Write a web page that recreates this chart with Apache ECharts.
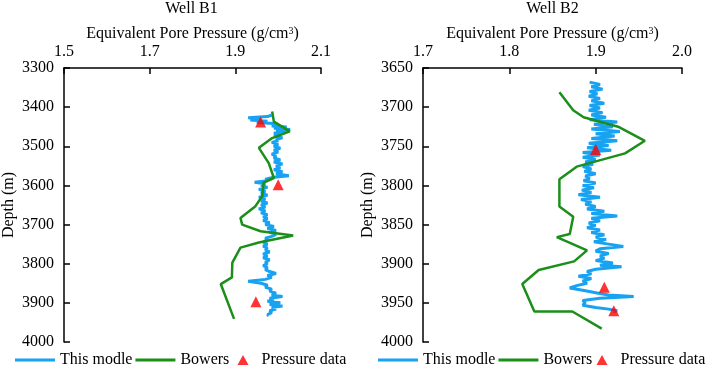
<!DOCTYPE html>
<html>
<head>
<meta charset="utf-8">
<script src="https://cdn.jsdelivr.net/npm/echarts@6/dist/echarts.min.js"></script>
<style>html,body{margin:0;padding:0;background:#fff}#c{width:709px;height:365px}</style>
</head>
<body>
<div id="c"></div>
<script>
// ---- Well B1 ----
const b1XTicks = [1.5, 1.7, 1.9, 2.1];
const b1Model = [
[1.985,3420],[1.975,3424],[1.93,3427],[1.96,3430],[1.935,3433],[1.975,3436],[1.95,3439],[1.99,3442],
[2.0,3445],[1.985,3448],[2.02,3451],[1.99,3454],[2.028,3457],[1.995,3460],[2.02,3463],[1.99,3466],
[2.005,3470],[1.99,3474],[2.01,3478],[1.995,3482],[2.0,3486],[1.985,3490],[2.0,3495],[1.99,3500],
[2.005,3505],[1.99,3510],[2.0,3515],[1.985,3520],[1.995,3525],[1.99,3530],[2.005,3535],[1.99,3540],
[2.01,3545],[1.995,3550],[2.005,3555],[1.99,3560],[2.01,3565],[1.995,3570],[2.025,3575],[1.985,3580],
[1.97,3584],[1.975,3588],[1.945,3592],[1.97,3596],[1.96,3600],[1.975,3605],[1.955,3610],[1.97,3615],
[1.96,3620],[1.975,3625],[1.955,3630],[1.97,3635],[1.96,3640],[1.975,3645],[1.96,3650],[1.97,3655],
[1.955,3660],[1.97,3665],[1.96,3670],[1.975,3675],[1.965,3680],[1.975,3685],[1.965,3690],[1.98,3695],
[1.97,3700],[1.99,3705],[1.975,3710],[1.995,3715],[1.98,3720],[1.995,3725],[1.985,3730],[1.97,3735],
[1.975,3740],[1.965,3745],[1.975,3750],[1.965,3755],[1.975,3760],[1.97,3765],[1.98,3770],[1.965,3775],
[1.975,3780],[1.965,3785],[1.98,3790],[1.97,3795],[1.975,3800],[1.965,3805],[1.975,3810],[1.97,3815],
[1.98,3820],[1.995,3825],[1.975,3830],[1.985,3835],[1.97,3840],[1.93,3845],[1.96,3850],[1.975,3855],
[1.97,3860],[1.985,3865],[1.98,3870],[1.995,3875],[1.985,3880],[2.01,3884],[1.98,3888],[1.99,3892],
[1.975,3896],[2.005,3900],[1.98,3904],[2.01,3908],[1.985,3912],[1.995,3916],[1.98,3920],[1.985,3925],
[1.975,3930],[1.978,3933]
];
const b1Bowers = [
[1.986,3411],[1.990,3437],[2.027,3462],[1.986,3479],[1.955,3504],[1.978,3543],[1.990,3581],[1.966,3593],
[1.963,3627],[1.947,3653],[1.912,3683],[1.916,3700],[1.959,3717],[2.035,3728],[1.955,3746],[1.912,3759],
[1.893,3797],[1.892,3835],[1.866,3852],[1.897,3941]
];
const b1Pressure = [[1.959,3438],[2.0,3598],[1.948,3897]];

// ---- Well B2 ----
const b2XTicks = [1.7, 1.8, 1.9, 2.0];
const b2Model = [
[1.893,3668],[1.905,3671],[1.895,3674],[1.908,3677],[1.893,3680],[1.902,3683],[1.892,3686],[1.905,3689],
[1.895,3692],[1.91,3695],[1.893,3698],[1.905,3701],[1.892,3704],[1.908,3707],[1.895,3710],[1.912,3713],
[1.893,3716],[1.925,3719],[1.898,3722],[1.92,3725],[1.895,3728],[1.928,3731],[1.9,3734],[1.922,3737],
[1.895,3740],[1.925,3743],[1.892,3746],[1.915,3749],[1.89,3752],[1.918,3755],[1.885,3758],[1.905,3761],
[1.885,3764],[1.9,3767],[1.888,3770],[1.897,3773],[1.885,3776],[1.895,3779],[1.887,3782],[1.9,3785],
[1.888,3788],[1.893,3791],[1.886,3794],[1.9,3797],[1.885,3800],[1.898,3803],[1.884,3806],[1.895,3809],
[1.88,3812],[1.905,3815],[1.883,3818],[1.895,3821],[1.888,3824],[1.9,3827],[1.89,3830],[1.91,3833],
[1.895,3836],[1.925,3839],[1.895,3842],[1.905,3845],[1.892,3848],[1.9,3851],[1.89,3854],[1.905,3857],
[1.895,3860],[1.91,3863],[1.9,3866],[1.912,3869],[1.898,3872],[1.915,3875],[1.932,3878],[1.905,3881],
[1.9,3884],[1.915,3887],[1.905,3890],[1.91,3893],[1.9,3896],[1.92,3899],[1.905,3902],[1.93,3904],
[1.9,3907],[1.89,3910],[1.895,3913],[1.88,3916],[1.895,3919],[1.885,3922],[1.89,3925],[1.878,3928],
[1.87,3931],[1.885,3934],[1.9,3937],[1.915,3940],[1.944,3942],[1.905,3944],[1.885,3947],[1.888,3950],
[1.885,3953],[1.9,3956],[1.915,3958],[1.925,3960],[1.92,3961]
];
const b2Bowers = [
[1.858,3681],[1.874,3704],[1.886,3713],[1.926,3725],[1.957,3743],[1.934,3759],[1.878,3776],[1.858,3792],
[1.858,3827],[1.874,3840],[1.870,3862],[1.855,3866],[1.890,3883],[1.875,3897],[1.834,3908],[1.815,3926],
[1.829,3961],[1.873,3961],[1.907,3983]
];
const b2Pressure = [[1.900,3754],[1.910,3930],[1.921,3960]];

const FONT = 'Liberation Serif';
const BLUE = '#17a2f2', GREEN = '#1a8f1a', RED = '#ff0000';

function xAxisCfg(idx, min, max, ticks) {
  return {
    gridIndex: idx, type: 'value', position: 'top', min: min, max: max,
    name: 'Equivalent Pore Pressure (g/cm{sup|3})', nameLocation: 'middle', nameGap: 26,
    nameMoveOverlap: false,
    nameTextStyle: { fontFamily: FONT, fontSize: 16, color: '#000',
      rich: { sup: { fontFamily: FONT, fontSize: 10, color: '#000', verticalAlign: 'top' } } },
    axisLine: { show: true, lineStyle: { color: '#000', width: 1.5 } },
    axisTick: { show: true, inside: true, length: 6, customValues: ticks, lineStyle: { color: '#000', width: 1.5 } },
    axisLabel: { customValues: ticks, margin: 8, fontFamily: FONT, fontSize: 16, color: '#000',
      formatter: v => v.toFixed(1) },
    splitLine: { show: false }
  };
}
function yAxisCfg(idx, min, max, interval) {
  return {
    gridIndex: idx, type: 'value', inverse: true, min: min, max: max, interval: interval,
    name: 'Depth (m)', nameLocation: 'middle', nameGap: 47, nameRotate: 90,
    nameTextStyle: { fontFamily: FONT, fontSize: 16, color: '#000' },
    axisLine: { show: true, lineStyle: { color: '#000', width: 1.5 } },
    axisTick: { show: true, inside: true, length: 6, lineStyle: { color: '#000', width: 1.5 } },
    axisLabel: { margin: 10, fontFamily: FONT, fontSize: 16, color: '#000', formatter: v => String(v) },
    splitLine: { show: false }
  };
}
function lineSeries(name, idx, data, color, width) {
  return { name: name, type: 'line', xAxisIndex: idx, yAxisIndex: idx, data: data,
    showSymbol: false, symbol: 'none', silent: true, animation: false,
    lineStyle: { color: color, width: width }, itemStyle: { color: color } };
}
function scatterSeries(idx, data) {
  return { name: 'Pressure data', type: 'scatter', xAxisIndex: idx, yAxisIndex: idx, data: data,
    symbol: 'triangle', symbolSize: 11, itemStyle: { color: RED }, animation: false, z: 5 };
}
function legends(x1, x2) {
  const ts = { fontFamily: FONT, fontSize: 16, color: '#000' };
  return [
    { left: x1, top: 352, itemWidth: 40, itemHeight: 3, itemGap: 3, textStyle: ts, padding: 0, icon: 'rect',
      data: ['This modle', 'Bowers'], selectedMode: false },
    { left: x2, top: 352, itemWidth: 11, itemHeight: 10, itemGap: 4,
      textStyle: Object.assign({ padding: [0, 0, 0, 8] }, ts), padding: 0,
      data: [{ name: 'Pressure data', icon: 'triangle' }], selectedMode: false }
  ];
}

const chart = echarts.init(document.getElementById('c'), null, { renderer: 'canvas' });
chart.setOption({
  animation: false,
  backgroundColor: '#fff',
  textStyle: { fontFamily: FONT },
  graphic: [
    { type: 'text', x: 191.5, y: 1, style: { text: 'Well B1', fontFamily: FONT, fontSize: 16, fill: '#000', align: 'center', verticalAlign: 'top' } },
    { type: 'text', x: 552.5, y: 1, style: { text: 'Well B2', fontFamily: FONT, fontSize: 16, fill: '#000', align: 'center', verticalAlign: 'top' } }
  ],
  grid: [
    { left: 62, right: 388, top: 68, bottom: 23, containLabel: false },
    { left: 423, right: 27, top: 68, bottom: 23, containLabel: false }
  ],
  xAxis: [ xAxisCfg(0, 1.5, 2.1, b1XTicks), xAxisCfg(1, 1.7, 2.0, b2XTicks) ],
  yAxis: [ yAxisCfg(0, 3300, 4000, 100), yAxisCfg(1, 3650, 4000, 50) ],
  legend: legends(15, 237.5).concat(legends(378, 596.5)),
  series: [
    lineSeries('This modle', 0, b1Model, BLUE, 3),
    lineSeries('Bowers', 0, b1Bowers, GREEN, 2.5),
    scatterSeries(0, b1Pressure),
    lineSeries('This modle', 1, b2Model, BLUE, 3),
    lineSeries('Bowers', 1, b2Bowers, GREEN, 2.5),
    scatterSeries(1, b2Pressure)
  ]
});
</script>
</body>
</html>
